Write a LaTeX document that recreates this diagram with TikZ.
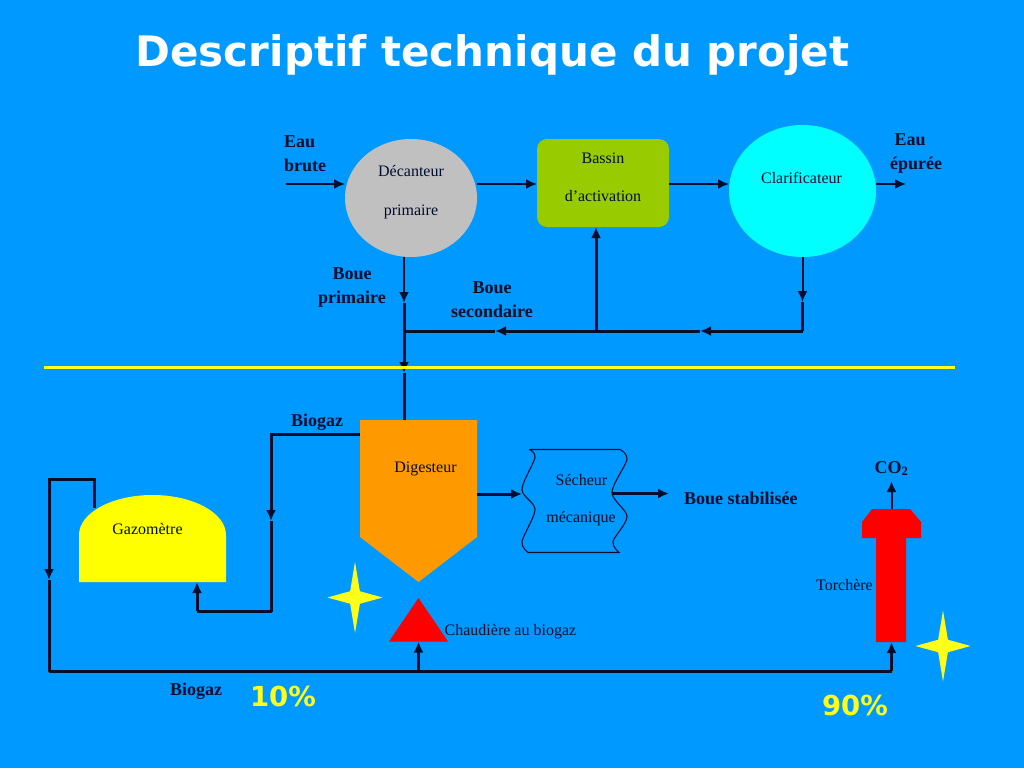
\documentclass[tikz,border=0pt]{standalone}
\usepackage{fontspec}
\setmainfont{Liberation Serif}
\newfontfamily\headfont{DejaVu Sans}
\usetikzlibrary{arrows.meta,positioning,calc,shapes.geometric}
\definecolor{water}{HTML}{0099FF}
\definecolor{ink}{HTML}{000E2E}
\definecolor{sludge}{HTML}{C0C0C0}
\definecolor{moss}{HTML}{99CC00}
\definecolor{amber}{HTML}{FF9900}
\definecolor{spark}{HTML}{FFFF1A}
\definecolor{clear}{HTML}{00FFFF}
\definecolor{dome}{HTML}{FFFF00}
\definecolor{flame}{HTML}{FF0000}

\begin{document}
\begin{tikzpicture}[x=1pt,y=-1pt,font=\fontsize{16}{18}\selectfont,text=ink,
  shell/.style={inner sep=0pt,outer sep=0pt,minimum width=#1},
  thin flow/.style={draw=ink,line width=2pt,-{Latex[length=11pt,width=10pt]}},
  flow/.style={draw=ink,line width=3pt,-{Latex[length=11pt,width=10pt]}},
  pipe/.style={draw=ink,line width=3pt,line join=round},
  tag/.style={font=\fontsize{18}{24}\selectfont\bfseries,align=center,inner sep=0pt},
  txt/.style={align=center,inner sep=0pt},
  share/.style={font=\headfont\fontsize{27.5}{30}\selectfont\bfseries,text=spark,inner sep=0pt},
  sparkle/.style={star,star points=4,star point ratio=4,fill=spark,minimum size=71pt,inner sep=0pt,xscale=.775,transform shape}]
\fill[water] (0,0) rectangle (1024,768);
\node[font=\headfont\fontsize{42}{46}\selectfont\bfseries,text=white,inner sep=0pt] (title) at (492.5,55) {Descriptif technique du projet};

\node[shell=132pt,ellipse,minimum height=118pt,fill=sludge] (decanteur) at (411,198) {};
\node[shell=132pt,minimum height=88pt,fill=moss,rounded corners=10pt,right=60pt of decanteur,yshift=15pt] (bassin) {};
\node[shell=147pt,ellipse,minimum height=132pt,fill=clear,right=60pt of bassin,yshift=-8pt] (clarificateur) {};
\node[txt] (decanteurtxt) at ([yshift=6pt]decanteur.center) {Décanteur\\[21pt]primaire};
\node[txt] (bassintxt) at ([yshift=6pt]bassin.center) {Bassin\\[20pt]d’activation};
\node[txt] (clarificateurtxt) at ([xshift=-1pt,yshift=13pt]clarificateur.center) {Clarificateur};

\node[shell=117pt,minimum height=162pt,below=163pt of decanteur,xshift=7.5pt] (digesteur) {};
\fill[amber] (digesteur.north west) -- (digesteur.north east) -- ([yshift=45pt]digesteur.south east) -- (digesteur.south) -- ([yshift=45pt]digesteur.south west) -- cycle;
\node[txt] (digesteurtxt) at ([xshift=7pt,yshift=32pt]digesteur.center) {Digesteur};
\node[shell=104pt,minimum height=103pt,right=45pt of digesteur] (secheur) {};
\node[txt] (secheurtxt) at ([xshift=7pt,yshift=1pt]secheur.center) {\hspace*{1pt}Sécheur\\[19pt]mécanique};
\draw[ink,line width=1.1pt,shift={(secheur.north west)}] (7,0) -- (98,0) -- plot[smooth] coordinates {(98,0) (105,10) (90,43) (105,67) (91,92) (97,103)} -- (6,103) -- plot[smooth] coordinates {(6,103) (0,92) (13,60) (0,40) (13,8) (7,0)};
\node[shell=147pt,minimum height=87pt,left=134pt of digesteur,yshift=-37.5pt] (gazometre) {};
\fill[dome] (gazometre.south west) -- ([yshift=47pt]gazometre.south west) arc[start angle=180,end angle=0,x radius=73.5pt,y radius=40pt] -- (gazometre.south east) -- cycle;
\node[txt] (gazometretxt) at ([xshift=-5pt,yshift=9pt]gazometre.center) {Gazomètre};
\node[shell=59pt,minimum height=43.5pt,below=16pt of digesteur] (chaudiere) {};
\fill[flame] (chaudiere.south west) -- (chaudiere.north) -- (chaudiere.south east) -- cycle;
\node[txt,right=-3.5pt of chaudiere,yshift=-12pt] (chaudieretxt) {Chaudière au biogaz};
\node[shell=59pt,minimum height=133pt,right=236pt of secheur,yshift=-74.5pt] (torchere) {};
\fill[flame,shift={(torchere.north west)}] (10,0) -- (48,0) -- (59,13) -- (59,29) -- (44,29) -- (44,133) -- (14,133) -- (14,29) -- (0,29) -- (0,13) -- cycle;
\node[txt,anchor=east] (torcheretxt) at ([xshift=11pt,yshift=-10pt]torchere.west) {Torchère};
\node[sparkle] (etoilea) at (355,597.5) {};
\node[sparkle] (etoileb) at (943,646) {};

\node[tag,align=left] (eaubrute) at (305,153.5) {Eau\\brute};
\node[tag] (eauepuree) at (916,154) {Eau\hspace*{12pt}\\épurée};
\node[tag] (bouepri) at (352,288) {Boue\\primaire};
\node[tag] (bouesec) at (492,300) {Boue\\secondaire};
\node[tag] (biogazhaut) at (317,422) {Biogaz};
\node[tag] (biogazbas) at (196,691) {Biogaz};
\node[tag,right=58pt of secheur,yshift=3pt] (bouestab) {Boue stabilisée};
\node[tag,above=28pt of torchere,yshift=5pt] (cotwo) {CO\textsubscript{2}};
\node[share] (dixpc) at (283,696) {10\%};
\node[share] (neufpc) at (855,705) {90\%};

\coordinate (eauin) at (286,184);
\coordinate (eauout) at (906,184);
\draw[thin flow] (eauin) -- (eauin -| decanteur.west);
\draw[thin flow] (eauin -| decanteur.east) -- (eauin -| bassin.west);
\draw[thin flow] (eauin -| bassin.east) -- (eauin -| clarificateur.west);
\draw[thin flow] (eauin -| clarificateur.east) -- (eauout);

\coordinate (bouehaut) at ([xshift=-7pt]decanteur.south);
\coordinate (bouemid) at ([yshift=-46pt]bouehaut);
\coordinate (jonction) at ([yshift=-74pt]bouehaut);
\coordinate (sepbouche) at (bouehaut |- 0,373);
\coordinate (retourbas) at ([yshift=-74pt]clarificateur.south);
\coordinate (retourmid) at ([yshift=-45pt]clarificateur.south);
\coordinate (retoura) at (700,331);
\coordinate (retourb) at (495,331);
\coordinate (bassinbas) at ([xshift=-7pt]bassin.south);
\draw[thin flow] (bouehaut) -- (bouemid);
\draw[flow] (bouemid) -- (sepbouche);
\draw[pipe] (sepbouche) -- (sepbouche |- digesteur.north);
\draw[thin flow] (clarificateur.south) -- (retourmid);
\draw[pipe] (retourmid) -- (retourbas);
\draw[flow] (retourbas) -- (retoura);
\draw[flow] (retoura) -- (retourb);
\draw[pipe] (retourb) -- (jonction);
\draw[flow] (bassinbas |- retoura) -- (bassinbas);

\coordinate (separg) at (44,367);
\coordinate (separd) at (955,367);
\draw[spark,line width=3pt] (separg) -- (separd);

\coordinate (digsortie) at ([yshift=7pt]digesteur.east);
\coordinate (secsortie) at ([xshift=-14pt,yshift=7.5pt]secheur.east);
\draw[flow] (digsortie) -- (digsortie -| secheur.west);
\draw[flow] (secsortie) -- (secsortie -| 669,0);

\coordinate (biogazdep) at ([yshift=-14pt]digesteur.north west);
\coordinate (biogazcoude) at (271,521);
\coordinate (biogazbasd) at (271,611);
\coordinate (gazentree) at ([xshift=118pt]gazometre.south west);
\draw[flow] (biogazdep) -- (biogazdep -| biogazcoude) -- (biogazcoude);
\draw[pipe] (biogazcoude) -- (biogazbasd) -- (biogazbasd -| gazentree);
\draw[flow] (biogazbasd -| gazentree) -- (gazentree);

\coordinate (gazsortie) at ([xshift=15pt,yshift=-13pt]gazometre.north west);
\coordinate (bouclehaut) at (49,479);
\coordinate (bouclemid) at (49,580);
\coordinate (bouclebas) at (49,671);
\draw[flow] (gazsortie) -- (gazsortie |- bouclehaut) -- (bouclehaut) -- (bouclemid);
\draw[pipe] (bouclemid) -- (bouclebas) -- (bouclebas -| torchere.south);
\draw[flow] (bouclebas -| torchere.south) -- (torchere.south);
\draw[flow] (bouclebas -| chaudiere.south) -- (chaudiere.south);
\draw[thin flow] (torchere.north) -- (cotwo.south |- 0,481);
\end{tikzpicture}
\end{document}
